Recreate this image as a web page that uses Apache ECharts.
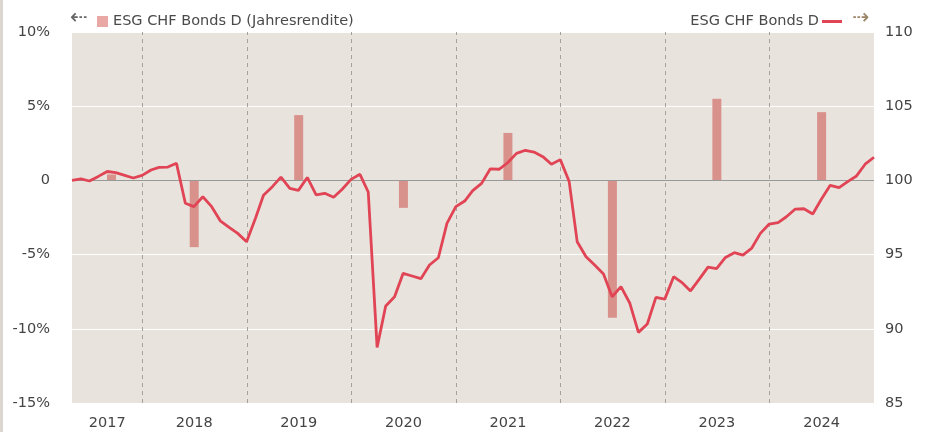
<!DOCTYPE html>
<html>
<head>
<meta charset="utf-8">
<script src="https://cdn.jsdelivr.net/npm/echarts@6/dist/echarts.min.js"></script>
<style>
html,body{margin:0;padding:0;background:#fff;}
#chart{width:927px;height:432px;}
</style>
</head>
<body>
<div id="chart"></div>
<script>
// ---- data ----
const lineName = 'ESG CHF Bonds D';
const barName = 'ESG CHF Bonds D (Jahresrendite)';
const startYear = 2017, startMonth = 4; // first month-end point: April 2017
const indexValues = [
  100.0, 100.1, 99.96, 100.27, 100.6, 100.52, 100.34, 100.16, 100.34,
  100.7, 100.88, 100.9, 101.15, 98.46, 98.23, 98.9, 98.23, 97.28, 96.84, 96.43, 95.87,
  97.45, 99.0, 99.58, 100.22, 99.47, 99.33, 100.2, 99.02, 99.13, 98.86, 99.4, 100.07,
  100.41, 99.22, 88.75, 91.54, 92.16, 93.74, 93.56, 93.38, 94.3, 94.79, 97.11, 98.23,
  98.61, 99.31, 99.8, 100.77, 100.75, 101.19, 101.82, 102.03, 101.91, 101.6, 101.09, 101.4,
  99.92, 95.87, 94.86, 94.3, 93.7, 92.16, 92.84, 91.72, 89.76, 90.32, 92.12, 92.0,
  93.51, 93.13, 92.55, 93.33, 94.16, 94.05, 94.81, 95.13, 94.97, 95.44, 96.43, 97.06,
  97.15, 97.55, 98.07, 98.09, 97.74, 98.73, 99.67, 99.51, 99.92, 100.3, 101.09, 101.56
];
const barYears = [2017, 2018, 2019, 2020, 2021, 2022, 2023, 2024];
const barDates = ['2017-09-15', '2018-07-01', '2019-07-01', '2020-07-01', '2021-07-01', '2022-07-01', '2023-07-01', '2024-07-01'];
const barValues = [0.4, -4.5, 4.4, -1.85, 3.2, -9.25, 5.5, 4.6];
const yearLabelDates = ['2017-08-31', '2018-07-01', '2019-07-01', '2020-07-01', '2021-07-01', '2022-07-01', '2023-07-01', '2024-07-01'];
const yearStartDates = ['2018-01-01', '2019-01-01', '2020-01-01', '2021-01-01', '2022-01-01', '2023-01-01', '2024-01-01'];
const leftTicks = { min: -15, max: 10, interval: 5 };
const rightTicks = { min: 85, max: 110, interval: 5 };

// ---- build ----
function ts(s) { const p = s.split('-').map(Number); return Date.UTC(p[0], p[1] - 1, p[2]); }
function monthEnd(y, m) { return Date.UTC(y, m, 0); } // m is 1-based
const lineData = indexValues.map((v, i) => {
  const mIdx = startMonth - 1 + i;
  const y = startYear + Math.floor(mIdx / 12);
  const m = (mIdx % 12) + 1;
  return [monthEnd(y, m), v];
});
const barData = barValues.map((v, i) => [ts(barDates[i]), v]);
const xMin = lineData[0][0], xMax = lineData[lineData.length - 1][0];

const FONT = 'DejaVu Sans';
const chart = echarts.init(document.getElementById('chart'), null, { renderer: 'canvas' });
chart.setOption({
  animation: false,
  textStyle: { fontFamily: FONT },
  grid: { left: 72, right: 53, top: 32, bottom: 29, show: true, backgroundColor: '#e8e4dd', borderWidth: 0 },
  legend: [
    {
      left: 92, top: 9, itemWidth: 11, itemHeight: 11, itemGap: 10,
      textStyle: { fontFamily: FONT, fontSize: 14.5, color: '#4a4a4a' },
      data: [{ name: barName, icon: 'rect', itemStyle: { color: '#eaa8a5' } }]
    },
    {
      right: 80, top: 9, align: 'right', itemWidth: 20, itemHeight: 3,
      textStyle: { fontFamily: FONT, fontSize: 14.5, color: '#4a4a4a', padding: [0, -2, 0, 0] },
      data: [{ name: lineName, icon: 'rect', itemStyle: { color: '#e04455' } }]
    }
  ],
  graphic: [
    { type: 'rect', left: 0, top: 0, shape: { width: 3, height: 432 }, style: { fill: '#dcd6d1' }, silent: true },
    { type: 'text', left: 70, top: 8, style: { text: '⇠', fill: '#666', font: '21px "DejaVu Sans"' }, silent: true },
    { type: 'text', left: 852, top: 8, style: { text: '⇢', fill: '#9c8468', font: '21px "DejaVu Sans"' }, silent: true }
  ],
  xAxis: {
    type: 'value', min: xMin, max: xMax, scale: true,
    axisLine: { show: false }, axisTick: { show: false }, splitLine: { show: false },
    axisLabel: {
      customValues: yearLabelDates.map(ts),
      formatter: (v) => String(new Date(v).getUTCFullYear()),
      fontFamily: FONT, fontSize: 14.5, color: '#444', margin: 13,
      showMinLabel: true, showMaxLabel: true, hideOverlap: false
    }
  },
  yAxis: [
    {
      type: 'value', position: 'left', min: leftTicks.min, max: leftTicks.max, interval: leftTicks.interval,
      axisLine: { show: false }, axisTick: { show: false },
      splitLine: { show: true, lineStyle: { color: '#ffffff', width: 1 } },
      axisLabel: { formatter: (v) => v === 0 ? '0' : v + '%', fontFamily: FONT, fontSize: 14.5, color: '#444', margin: 22 }
    },
    {
      type: 'value', position: 'right', min: rightTicks.min, max: rightTicks.max, interval: rightTicks.interval,
      axisLine: { show: false }, axisTick: { show: false }, splitLine: { show: false },
      axisLabel: { fontFamily: FONT, fontSize: 14.5, color: '#444', margin: 11 }
    }
  ],
  series: [
    {
      name: barName, type: 'bar', yAxisIndex: 0, data: barData, barWidth: 9,
      itemStyle: { color: '#d9918c' }, z: 2,
      markLine: {
        silent: true, symbol: 'none', label: { show: false },
        data: [
          { yAxis: 0, lineStyle: { color: '#999', type: 'solid', width: 1 } },
          ...yearStartDates.map(d => ({ xAxis: ts(d), lineStyle: { color: '#a5a29d', type: [4, 4], width: 1 } }))
        ]
      }
    },
    {
      name: lineName, type: 'line', yAxisIndex: 1, data: lineData, showSymbol: false, symbol: 'none',
      lineStyle: { color: '#e04455', width: 2.8 }, itemStyle: { color: '#e04455' }, z: 5
    }
  ]
});
</script>
</body>
</html>
